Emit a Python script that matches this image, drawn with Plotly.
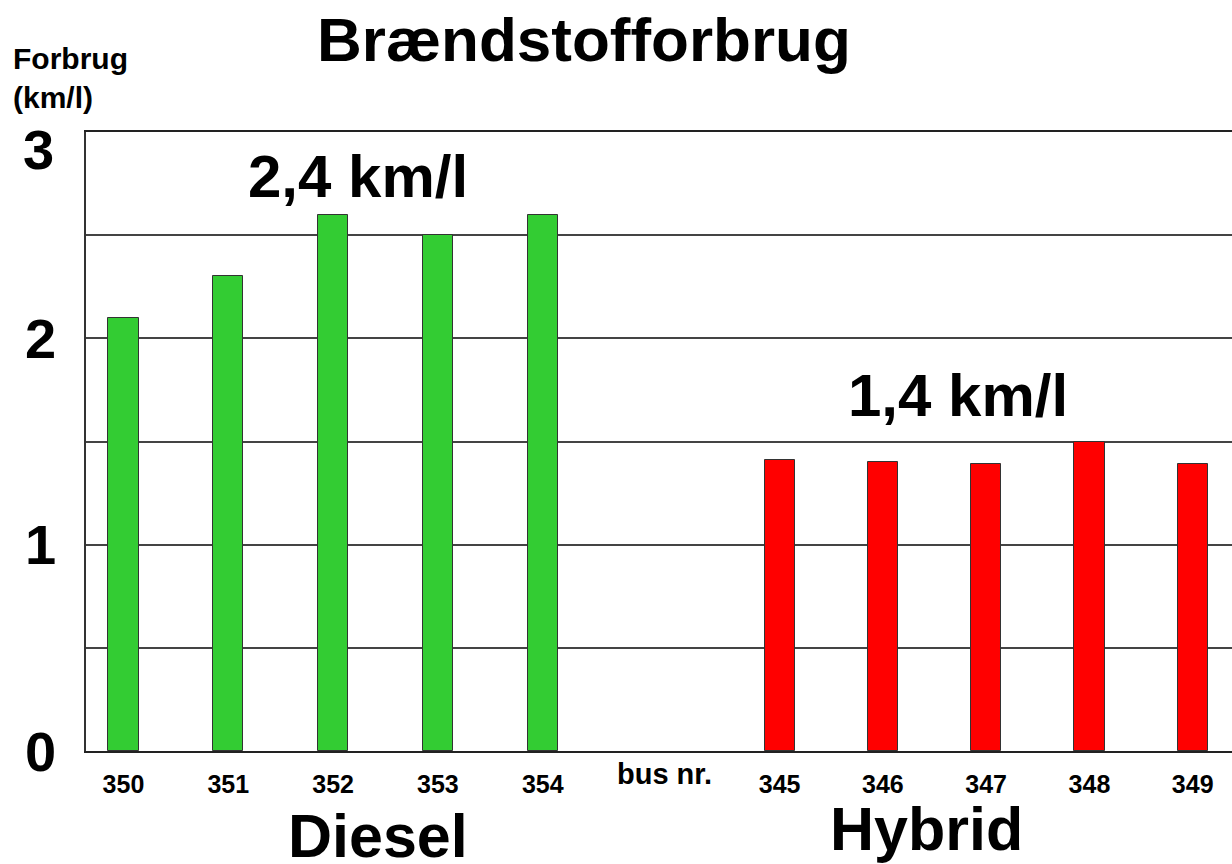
import plotly.graph_objects as go

# ---- data ----
diesel_buses = ["350", "351", "352", "353", "354"]
diesel_values = [2.1, 2.3, 2.6, 2.5, 2.6]
hybrid_buses = ["345", "346", "347", "348", "349"]
hybrid_values = [1.41, 1.40, 1.39, 1.50, 1.39]
y_tick_values = [0, 0.5, 1, 1.5, 2, 2.5, 3]
y_tick_labels = ["0", "", "1", "", "2", "", ""]
y_top_label = "3"

# ---- layout constants ----
W, H = 1232, 864
L, R, T, B = 86, 0, 132, 113
DIESEL_START, DIESEL_STEP = 0.0, 1.008
HYBRID_START, HYBRID_STEP = 6.31, 0.993
X_RANGE = [-0.36, 10.66]
Y_RANGE = [0, 3]
BAR_W = 0.29
FONT = "Liberation Sans, Arial, sans-serif"

diesel_x = [DIESEL_START + i * DIESEL_STEP for i in range(len(diesel_buses))]
hybrid_x = [HYBRID_START + i * HYBRID_STEP for i in range(len(hybrid_buses))]

fig = go.Figure()
fig.add_trace(go.Bar(x=diesel_x, y=diesel_values, width=BAR_W,
                     marker=dict(color="#33CC33", line=dict(color="#333333", width=1)),
                     name="Diesel", showlegend=False))
fig.add_trace(go.Bar(x=hybrid_x, y=hybrid_values, width=BAR_W,
                     marker=dict(color="#FF0000", line=dict(color="#333333", width=1)),
                     name="Hybrid", showlegend=False))

plot_w = W - L - R
plot_h = H - T - B


def px(x):
    return (x - L) / plot_w


def py(y):
    return (H - B - y) / plot_h


def note(text, x, y, size, xanchor="center", align="center"):
    fig.add_annotation(text=text, x=px(x), y=py(y), xref="paper", yref="paper",
                       xanchor=xanchor, yanchor="middle", showarrow=False, align=align,
                       font=dict(family=FONT, size=size, color="black", weight="bold"))


note("Brændstofforbrug", 584, 40, 62)
note("Forbrug<br>(km/l)", 11, 78, 30, xanchor="left", align="left")
note(y_top_label, 56, 149, 56, xanchor="right")
note("2,4 km/l", 358, 176, 60)
note("1,4 km/l", 958, 395, 60)
note("bus nr.", 664, 774, 29)
note("Diesel", 378, 836, 61)
note("Hybrid", 926, 829, 61)

fig.update_layout(
    width=W, height=H,
    margin=dict(l=L, r=R, t=T, b=B, pad=0),
    paper_bgcolor="white", plot_bgcolor="white",
    bargap=0,
    font=dict(family=FONT, color="black"),
    xaxis=dict(
        range=X_RANGE, showgrid=False, zeroline=False,
        showline=True, mirror=True, linecolor="#222222", linewidth=1.5,
        tickmode="array", tickvals=diesel_x + hybrid_x,
        ticktext=diesel_buses + hybrid_buses,
        ticks="", ticklabelstandoff=10,
        tickfont=dict(family=FONT, size=25, color="black", weight="bold"),
    ),
    yaxis=dict(
        range=Y_RANGE, showgrid=True, gridcolor="#444444", gridwidth=1.5,
        zeroline=False, showline=True, linecolor="#333333", linewidth=1.5,
        tickmode="array", tickvals=y_tick_values, ticktext=y_tick_labels,
        ticks="", ticklabelstandoff=17,
        tickfont=dict(family=FONT, size=56, color="black", weight="bold"),
    ),
)

fig.write_html(
    "out.html",
    config={"displayModeBar": False},
    post_script="document.body.style.margin='0';document.body.style.overflow='hidden';",
)
